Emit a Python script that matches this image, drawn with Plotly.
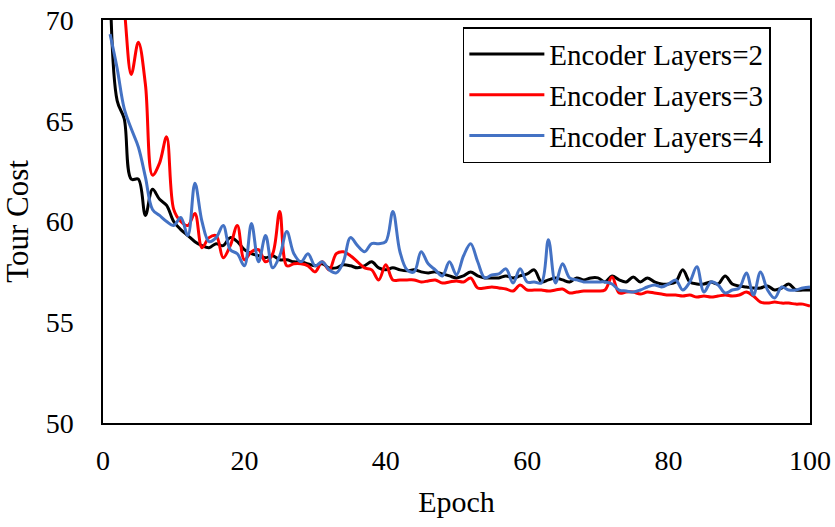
import plotly.graph_objects as go

epochs = list(range(1, 101))

layers2 = [72.0, 66.0, 65.1, 62.1, 62.1, 60.3, 61.6, 61.1, 60.8, 60.0,
           59.6, 59.3, 59.0, 58.8, 58.7, 58.9, 58.8, 59.2, 59.0, 58.6,
           58.4, 58.3, 58.2, 58.3, 58.1, 58.1, 58.0, 58.0, 57.9, 57.8,
           57.9, 57.7, 57.7, 57.85, 57.8, 57.7, 57.8, 58.0, 57.7, 57.6,
           57.7, 57.6, 57.55, 57.6, 57.5, 57.45, 57.5, 57.4, 57.3, 57.2,
           57.3, 57.5, 57.3, 57.2, 57.2, 57.2, 57.3, 57.2, 57.3, 57.4,
           57.6, 57.0, 57.1, 57.2, 57.1, 57.0, 57.2, 57.1, 57.2, 57.2,
           57.0, 57.3, 57.1, 57.0, 57.25, 57.0, 57.2, 57.0, 56.9, 56.9,
           57.0, 57.6, 57.0, 56.9, 56.9, 57.0, 56.9, 57.3, 56.9, 56.8,
           56.75, 56.7, 56.7, 56.8, 56.6, 56.7, 56.9, 56.6, 56.6, 56.6]

layers3 = [78.0, 73.5, 70.6, 67.3, 68.9, 66.8, 62.3, 62.9, 64.2, 60.6,
           60.0, 59.8, 60.4, 58.7, 59.2, 59.3, 58.2, 58.8, 59.8, 58.1,
           58.5, 58.6, 58.0, 58.4, 60.5, 57.8, 57.9, 57.9, 57.8, 57.5,
           58.0, 57.6, 58.4, 58.5, 58.3, 58.0, 57.7, 57.6, 57.1, 57.85,
           57.1, 57.1, 57.1, 57.1, 57.0, 57.05, 57.1, 56.95, 57.0, 57.05,
           57.0, 57.2, 56.7, 56.7, 56.75, 56.7, 56.65, 56.55, 56.85, 56.6,
           56.6, 56.6, 56.55, 56.6, 56.65, 56.45, 56.5, 56.55, 56.55, 56.55,
           56.6, 57.25, 56.45, 56.5, 56.5, 56.4, 56.5, 56.45, 56.4, 56.35,
           56.35, 56.3, 56.35, 56.25, 56.3, 56.25, 56.3, 56.35, 56.3, 56.35,
           56.5, 56.3, 56.0, 55.95, 56.0, 55.95, 55.95, 55.9, 55.9, 55.8]

layers4 = [69.3, 67.6, 65.6, 64.6, 63.7, 62.2, 60.6, 60.3, 60.0, 59.8,
           60.2, 59.3, 61.9, 60.0, 59.0, 59.2, 59.8, 58.6, 58.4, 57.8,
           59.9, 58.0, 59.3, 57.7, 58.3, 59.5, 58.4, 58.0, 58.4, 57.8,
           58.0, 57.6, 57.45, 58.0, 59.2, 58.8, 58.5, 58.9, 58.9, 59.0,
           60.5, 58.5, 57.6, 57.5, 58.5, 57.9, 57.6, 57.3, 58.0, 57.35,
           58.3, 58.9, 58.0, 57.2, 57.35, 57.4, 57.65, 56.95, 57.65, 57.0,
           57.0, 56.95, 59.1, 56.95, 57.9, 57.2, 57.1, 57.0, 57.0, 57.0,
           57.0, 56.9, 56.6, 56.55, 56.5, 56.6, 56.75, 56.85, 56.75, 56.9,
           57.1, 56.6, 57.0, 57.75, 56.5, 57.0, 56.85, 56.45, 56.6, 56.7,
           57.45, 56.35, 57.5, 56.6, 56.2, 56.75, 56.6, 56.6, 56.7, 56.75]

series_names = ["Encoder Layers=2", "Encoder Layers=3", "Encoder Layers=4"]
series_values = [layers2, layers3, layers4]
series_colors = ["#000000", "#FF0000", "#4472C4"]

x_ticks = [0, 20, 40, 60, 80, 100]
y_ticks = [50, 55, 60, 65, 70]

FONT = "Liberation Serif, Times New Roman, serif"

fig = go.Figure()
for name, vals, col in zip(series_names, series_values, series_colors):
    fig.add_trace(go.Scatter(
        x=epochs, y=vals, name=name, mode="lines",
        line=dict(color=col, width=3, shape="spline", smoothing=1.0),
    ))

fig.update_layout(
    width=835, height=527,
    margin=dict(l=103, r=25, t=20, b=104, autoexpand=False),
    paper_bgcolor="white", plot_bgcolor="white",
    font=dict(family=FONT, size=28, color="black"),
    showlegend=True,
    legend=dict(
        x=0.509, y=0.982, xanchor="left", yanchor="top",
        bgcolor="white", bordercolor="black", borderwidth=1.5,
        font=dict(family=FONT, size=29, color="black"),
        tracegroupgap=0, itemwidth=75,
    ),
)
fig.update_xaxes(
    range=[0, 100], tickvals=x_ticks, ticktext=[str(v) for v in x_ticks],
    showgrid=False, zeroline=False, automargin=False,
    showline=True, linecolor="black", linewidth=1.5, mirror=True,
    ticks="", ticklabelstandoff=12, ticklabeloverflow="allow",
    title=dict(text="Epoch", standoff=16, font=dict(family=FONT, size=30)),
    tickfont=dict(family=FONT, size=28),
)
fig.update_yaxes(
    range=[50, 70], tickvals=y_ticks, ticktext=[str(v) for v in y_ticks],
    showgrid=False, zeroline=False, automargin=False,
    showline=True, linecolor="black", linewidth=1.5, mirror=True,
    ticks="", ticklabelstandoff=22, ticklabeloverflow="allow",
    title=dict(text="Tour Cost", standoff=10, font=dict(family=FONT, size=31)),
    tickfont=dict(family=FONT, size=28),
)

fig.write_html(
    "out.html",
    config={"displayModeBar": False},
    post_script="document.body.style.margin='0';document.body.style.overflow='hidden';",
)
